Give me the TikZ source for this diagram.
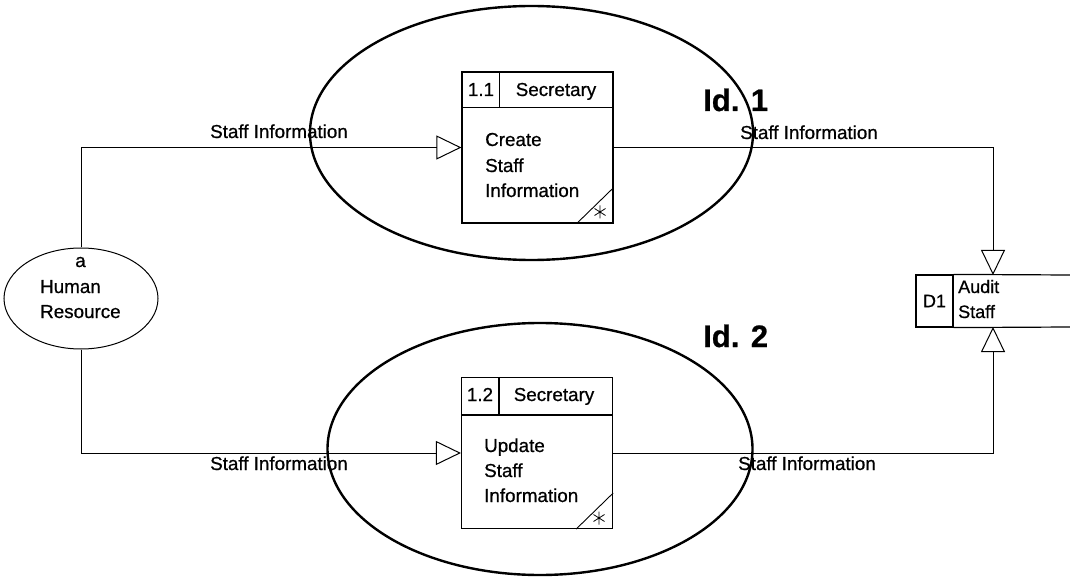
\documentclass[tikz,border=0pt]{standalone}
\usepackage{fontspec}
\setmainfont{Liberation Sans}[RawFeature={embolden=0.7}]
\usetikzlibrary{shapes.geometric,arrows.meta,calc}
\newcommand\starmark[1]{\draw[line width=0.8pt] (#1) +(0,-6.5)--+(0,6.5) +(-5.5,-3.5)--+(5.5,3.5) +(-5.5,3.5)--+(5.5,-3.5);}
\begin{document}
\begin{tikzpicture}[x=1pt,y=-1pt,
  txt/.style={font=\fontsize{18.8}{22}\selectfont, inner sep=0},
  lbl/.style={txt, anchor=base west},
  hdr/.style={txt, anchor=base},
  proc/.style={draw, line width=1.2pt, minimum width=151pt, minimum height=151pt, inner sep=0},
  ring/.style={draw, ellipse, line width=2.4pt, inner sep=0},
  flow/.style={line width=1pt, -{Triangle[open, length=25pt, width=24pt, line width=1pt]}},
  idl/.style={font=\fontsize{31}{34}\selectfont\bfseries, anchor=base west, inner sep=0},
  thin/.style={line width=1.2pt}
]
\useasboundingbox (0,0) rectangle (1070,577);

% processes
\node[proc] (p1) at (537.5,147.5) {};
\node[proc] (p2) at (537,453) {};

% process 1 details
\draw[thin] ($(p1.north west)+(0,36)$) -- ($(p1.north east)+(0,36)$);
\draw[thin] ($(p1.north west)+(38,0)$) -- ($(p1.north west)+(38,36)$);
\node[hdr] (p1id) at (481,96) {1.1};
\node[hdr] (p1who) at (556,96) {Secretary};
\node[lbl] (p1a) at (485,146) {Create};
\node[lbl] (p1b) at (485,172) {Staff};
\node[lbl] (p1c) at (485,197) {Information};
\draw[line width=0.9pt] ($(p1.south east)+(-37,0)$) -- ($(p1.south east)+(0,-36)$);
\starmark{600,212}

% process 2 details
\draw[thin] ($(p2.north west)+(0,38)$) -- ($(p2.north east)+(0,38)$);
\draw[thin] ($(p2.north west)+(38,0)$) -- ($(p2.north west)+(38,38)$);
\node[hdr] (p2id) at (480,401) {1.2};
\node[hdr] (p2who) at (554,401) {Secretary};
\node[lbl] (p2a) at (484,452) {Update};
\node[lbl] (p2b) at (484,477) {Staff};
\node[lbl] (p2c) at (484,502) {Information};
\draw[line width=0.9pt] ($(p2.south east)+(-37,0)$) -- ($(p2.south east)+(0,-36)$);
\starmark{599,518}

% external entity
\node[draw, ellipse, line width=1pt, minimum width=154pt, minimum height=101pt, inner sep=0] (hr) at (81,298.5) {};
\node[hdr] (hra) at (80.5,267) {a};
\node[lbl] (hrb) at (40,293) {Human};
\node[lbl] (hrc) at (40,318) {Resource};

% data store
\node[draw, thin, minimum width=37pt, minimum height=52pt, inner sep=0, font=\fontsize{18}{20}\selectfont] (d1) at (934.5,301) {D1};
\draw[thin] (d1.north east) -- (1070,275);
\draw[thin] (d1.south east) -- (1070,327);
\node[lbl, font=\fontsize{18}{20}\selectfont] (d1a) at (958,293) {Audit};
\node[lbl, font=\fontsize{18}{20}\selectfont] (d1b) at (958,318) {Staff};
\coordinate (sN) at (993,275);
\coordinate (sS) at (993,327);

% flows
\draw[flow] (hr.north) |- (p1.west);
\draw[flow] (hr.south) |- (p2.west);
\draw[flow] (p1.east) -| (sN);
\draw[flow] (p2.east) -| (sS);

% flow labels
\node[lbl] (f1) at (210,138) {Staff Information};
\node[lbl] (f2) at (740,139) {Staff Information};
\node[lbl] (f3) at (210,470) {Staff Information};
\node[lbl] (f4) at (738,470) {Staff Information};

% grouping ellipses
\node[ring, minimum width=443pt, minimum height=254pt] (g1) at (531.5,133) {};
\node[ring, minimum width=425pt, minimum height=252pt] (g2) at (540,449) {};
\node[idl] (id1) at (703,111) {Id. 1};
\node[idl] (id2) at (703,347) {Id. 2};
\end{tikzpicture}
\end{document}
